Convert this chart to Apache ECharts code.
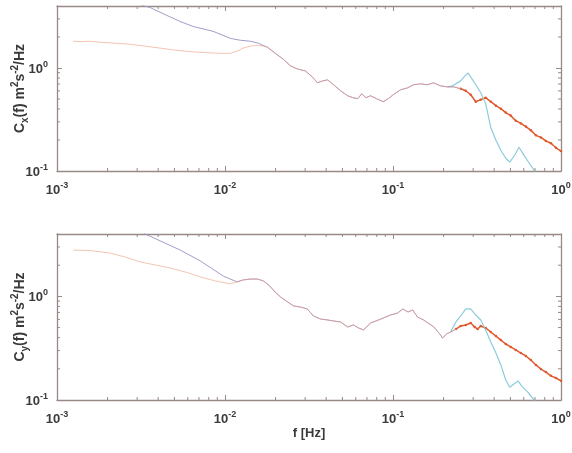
<!DOCTYPE html>
<html><head><meta charset="utf-8">
<script src="https://cdn.jsdelivr.net/npm/echarts@6/dist/echarts.min.js"></script>
<style>html,body{margin:0;padding:0;background:#fff}#c{width:572px;height:453px}</style>
</head><body><div id="c"></div>
<script>
// ---------- axis ticks ----------
const xMajorTicks = [0.001, 0.01, 0.1, 1];
const yMajorTicks = [0.1, 1];
const minorMultipliers = [2, 3, 4, 5, 6, 7, 8, 9];
const xLimits = [0.001, 1];
const yLimits = [0.1, 4];
const yNames = ['x', 'y'];

// ---------- top panel ----------
const topPurpleLowF = [0.00125, 0.0018, 0.00272, 0.00359, 0.0044, 0.00541, 0.00646, 0.0085, 0.01076, 0.01233, 0.01416, 0.0158];
const topPurpleLow  = [8.5, 5.9, 4.4, 3.86, 3.3, 2.83, 2.53, 2.27, 1.94, 1.86, 1.82, 1.74];
const topOrangeLowF = [0.00125, 0.00137, 0.00157, 0.0018, 0.00222, 0.00272, 0.00335, 0.00411, 0.00505, 0.00621, 0.00763, 0.00937, 0.01076, 0.0118, 0.0128, 0.01416, 0.0156, 0.0169];
const topOrangeLow  = [1.82, 1.80, 1.82, 1.78, 1.74, 1.70, 1.63, 1.56, 1.49, 1.44, 1.41, 1.39, 1.39, 1.46, 1.56, 1.63, 1.66, 1.63];
const topMidF = [0.0179, 0.0199, 0.0222, 0.0245, 0.0270, 0.0301, 0.0331, 0.0355, 0.0381, 0.0408, 0.0443, 0.0488, 0.0537, 0.0576, 0.0617, 0.0651, 0.0690, 0.0735, 0.0797, 0.0875, 0.0937, 0.1003, 0.1109, 0.122, 0.1325, 0.146, 0.160, 0.174, 0.192, 0.211, 0.230, 0.253];
const topMid  = [1.59, 1.39, 1.22, 1.05, 0.978, 0.936, 0.82, 0.718, 0.75, 0.767, 0.687, 0.601, 0.538, 0.515, 0.504, 0.562, 0.515, 0.538, 0.504, 0.471, 0.504, 0.55, 0.614, 0.642, 0.687, 0.702, 0.687, 0.718, 0.671, 0.656, 0.656, 0.628];
const topRedF = [0.253, 0.271, 0.290, 0.311, 0.333, 0.356, 0.382, 0.410, 0.4385, 0.469, 0.502, 0.538, 0.577, 0.618, 0.662, 0.709, 0.759, 0.813, 0.871, 0.933, 1.0];
const topRed  = [0.628, 0.601, 0.55, 0.471, 0.493, 0.515, 0.471, 0.431, 0.403, 0.369, 0.345, 0.308, 0.29, 0.27, 0.248, 0.222, 0.212, 0.196, 0.186, 0.168, 0.156];
const topCyanF = [0.211, 0.226, 0.253, 0.268, 0.280, 0.290, 0.311, 0.333, 0.356, 0.382, 0.410, 0.4385, 0.469, 0.495, 0.531, 0.562, 0.591, 0.634, 0.691, 0.740, 0.813];
const topCyan  = [0.656, 0.671, 0.75, 0.838, 0.895, 0.82, 0.687, 0.575, 0.451, 0.265, 0.199, 0.159, 0.133, 0.122, 0.143, 0.17, 0.149, 0.125, 0.102, 0.0857, 0.0717];

// ---------- bottom panel ----------
const botPurpleLowF = [0.00125, 0.0018, 0.00344, 0.00541, 0.00713, 0.00977, 0.0118];
const botPurpleLow  = [9.96, 7.1, 3.92, 2.8, 2.2, 1.57, 1.38];
const botOrangeLowF = [0.00125, 0.00157, 0.00207, 0.00254, 0.00313, 0.00384, 0.00472, 0.0058, 0.00713, 0.00875, 0.01076];
const botOrangeLow  = [2.8, 2.77, 2.62, 2.40, 2.15, 2.01, 1.88, 1.72, 1.54, 1.41, 1.32];
const botMidF = [0.0118, 0.0128, 0.01416, 0.0156, 0.0169, 0.0182, 0.0199, 0.0214, 0.0236, 0.0256, 0.0281, 0.0309, 0.0336, 0.0370, 0.0408, 0.0443, 0.0488, 0.0537, 0.0582, 0.0623, 0.0668, 0.0735, 0.082, 0.0968, 0.1065, 0.1145, 0.123, 0.131, 0.140, 0.152, 0.175, 0.192, 0.197, 0.209, 0.220, 0.237];
const botMid  = [1.38, 1.44, 1.47, 1.47, 1.41, 1.29, 1.10, 0.987, 0.883, 0.808, 0.790, 0.756, 0.647, 0.605, 0.592, 0.579, 0.566, 0.507, 0.53, 0.496, 0.474, 0.553, 0.592, 0.661, 0.691, 0.756, 0.707, 0.739, 0.632, 0.592, 0.507, 0.424, 0.396, 0.435, 0.453, 0.484];
const botRedF = [0.237, 0.253, 0.271, 0.290, 0.306, 0.319, 0.333, 0.356, 0.382, 0.410, 0.4385, 0.469, 0.502, 0.538, 0.577, 0.618, 0.662, 0.709, 0.759, 0.813, 0.871, 0.933, 1.0];
const botRed  = [0.484, 0.518, 0.53, 0.553, 0.507, 0.484, 0.518, 0.496, 0.453, 0.414, 0.379, 0.347, 0.325, 0.304, 0.284, 0.266, 0.243, 0.218, 0.199, 0.186, 0.171, 0.163, 0.153];
const botCyanF = [0.220, 0.237, 0.253, 0.271, 0.290, 0.311, 0.333, 0.356, 0.382, 0.410, 0.4385, 0.469, 0.495, 0.525, 0.555, 0.584, 0.634, 0.691, 0.759];
const botCyan  = [0.453, 0.566, 0.647, 0.756, 0.756, 0.661, 0.592, 0.474, 0.363, 0.284, 0.218, 0.156, 0.133, 0.143, 0.153, 0.136, 0.119, 0.1, 0.084];

// ---------- styling ----------
const FONT = '"Liberation Sans", Arial, sans-serif';
const AX = '#978a86';
const TXT = '#3a3a3a';
const C_PURPLE = '#9a90c4', C_ORANGE = '#ec9c7e', C_CYAN = '#8ccbdb', C_RED = '#e0592e';

function zip(f, c) { return f.map((v, i) => [v, c[i]]); }
function expLabel(v) {
  const l = Math.log10(v), e = Math.round(l);
  if (Math.abs(l - e) > 1e-6) return '';
  return '{b|10}{e|' + e + '}';
}
const labRich = {
  b: { fontSize: 13, fontWeight: 'bold', color: TXT, fontFamily: FONT, verticalAlign: 'bottom' },
  e: { fontSize: 9, fontWeight: 'bold', color: TXT, fontFamily: FONT, verticalAlign: 'bottom', padding: [0, 0, 7, 0] }
};
const nameRich = {
  t: { fontSize: 14, fontWeight: 'bold', color: TXT, fontFamily: FONT, verticalAlign: 'bottom', padding: [0, 0, 3, 0] },
  s: { fontSize: 10, fontWeight: 'bold', color: TXT, fontFamily: FONT, verticalAlign: 'bottom' },
  p: { fontSize: 10, fontWeight: 'bold', color: TXT, fontFamily: FONT, verticalAlign: 'bottom', padding: [0, 0, 10, 0] }
};

const xMinor = [], yMinor = [];
xMajorTicks.slice(0, -1).forEach(d => minorMultipliers.forEach(m => xMinor.push(m * d)));
yMajorTicks.forEach(d => minorMultipliers.forEach(m => { const v = m * d; if (v < yLimits[1]) yMinor.push(v); }));

const grids = [
  { left: 57, right: 11, top: 6, height: 165, containLabel: false, outerBoundsMode: 'none' },
  { left: 57, right: 11, top: 234, height: 166, containLabel: false, outerBoundsMode: 'none' }
];
const xAxis = [], yAxis = [], series = [];
const panels = [
  { purple: zip(topPurpleLowF, topPurpleLow).concat(zip(topMidF, topMid)),
    orange: zip(topOrangeLowF, topOrangeLow).concat(zip(topMidF, topMid)),
    red: zip(topRedF, topRed), cyan: zip(topCyanF, topCyan) },
  { purple: zip(botPurpleLowF, botPurpleLow).concat(zip(botMidF, botMid)),
    orange: zip(botOrangeLowF, botOrangeLow).concat(zip(botMidF, botMid)),
    red: zip(botRedF, botRed), cyan: zip(botCyanF, botCyan) }
];
const tickStyle = { show: true, inside: true, length: 5, lineStyle: { color: AX, width: 1 } };
const lineStyleAx = { show: true, lineStyle: { color: AX, width: 1.3 } };

panels.forEach((p, i) => {
  xAxis.push({
    type: 'log', logBase: 10, gridIndex: i, min: xLimits[0], max: xLimits[1], position: 'bottom',
    axisLine: lineStyleAx, axisTick: tickStyle, splitLine: { show: false },
    axisLabel: { formatter: expLabel, rich: labRich, margin: 10 },
    name: i === 1 ? 'f [Hz]' : '', nameLocation: 'middle', nameGap: 27, nameMoveOverlap: false,
    nameTextStyle: { fontSize: 13, fontWeight: 'bold', color: TXT, fontFamily: FONT }
  });
  xAxis.push({
    type: 'log', logBase: 10, gridIndex: i, min: xLimits[0], max: xLimits[1], position: 'top',
    axisLine: lineStyleAx, axisTick: tickStyle, splitLine: { show: false }, axisLabel: { show: false }
  });
  yAxis.push({
    type: 'log', logBase: 10, gridIndex: i, min: yLimits[0], max: yLimits[1], position: 'left',
    axisLine: lineStyleAx, axisTick: tickStyle, splitLine: { show: false },
    axisLabel: { formatter: expLabel, rich: labRich, margin: 9 },
    name: '{t|C}{s|' + yNames[i] + '}{t|(f) m}{p|2}{t|s}{p|-2}{t|/Hz}',
    nameLocation: 'middle', nameGap: 27, nameMoveOverlap: false, nameTextStyle: { rich: nameRich }
  });
  yAxis.push({
    type: 'log', logBase: 10, gridIndex: i, min: yLimits[0], max: yLimits[1], position: 'right',
    axisLine: lineStyleAx, axisTick: tickStyle, splitLine: { show: false }, axisLabel: { show: false }
  });
  const xi = 2 * i, yi = 2 * i;
  series.push({ type: 'line', xAxisIndex: xi, yAxisIndex: yi, data: p.red, showSymbol: true, symbol: 'circle', symbolSize: 2.5,
    itemStyle: { color: C_RED }, lineStyle: { color: C_RED, width: 1.5 }, z: 2 });
  series.push({ type: 'line', xAxisIndex: xi, yAxisIndex: yi, data: p.cyan, showSymbol: false,
    lineStyle: { color: C_CYAN, width: 1.2 }, z: 3 });
  series.push({ type: 'line', xAxisIndex: xi, yAxisIndex: yi, data: p.purple, showSymbol: false,
    lineStyle: { color: C_PURPLE, width: 1, opacity: 0.9 }, z: 4 });
  series.push({ type: 'line', xAxisIndex: xi, yAxisIndex: yi, data: p.orange, showSymbol: false,
    lineStyle: { color: C_ORANGE, width: 1, opacity: 0.6 }, z: 5 });
  // minor ticks (MATLAB style, drawn through the axis scales)
  series.push({
    type: 'custom', xAxisIndex: xi, yAxisIndex: yi, silent: true, clip: false, z: 6,
    data: xMinor.map(v => [v, 1]),
    renderItem: (params, api) => {
      const v = api.value(0);
      const b = api.coord([v, yLimits[0]]), t = api.coord([v, yLimits[1]]);
      return { type: 'group', children: [
        { type: 'line', shape: { x1: b[0], y1: b[1], x2: b[0], y2: b[1] - 3 }, style: { stroke: AX, lineWidth: 1 } },
        { type: 'line', shape: { x1: t[0], y1: t[1], x2: t[0], y2: t[1] + 3 }, style: { stroke: AX, lineWidth: 1 } }
      ] };
    }
  });
  series.push({
    type: 'custom', xAxisIndex: xi, yAxisIndex: yi, silent: true, clip: false, z: 6,
    data: yMinor.map(v => [0.01, v]),
    renderItem: (params, api) => {
      const v = api.value(1);
      const l = api.coord([xLimits[0], v]), r = api.coord([xLimits[1], v]);
      return { type: 'group', children: [
        { type: 'line', shape: { x1: l[0], y1: l[1], x2: l[0] + 3, y2: l[1] }, style: { stroke: AX, lineWidth: 1 } },
        { type: 'line', shape: { x1: r[0], y1: r[1], x2: r[0] - 3, y2: r[1] }, style: { stroke: AX, lineWidth: 1 } }
      ] };
    }
  });
});

const chart = echarts.init(document.getElementById('c'), null, { renderer: 'canvas' });
chart.setOption({
  animation: false,
  backgroundColor: '#ffffff',
  grid: grids,
  xAxis: xAxis,
  yAxis: yAxis,
  series: series
});
</script>
</body></html>
